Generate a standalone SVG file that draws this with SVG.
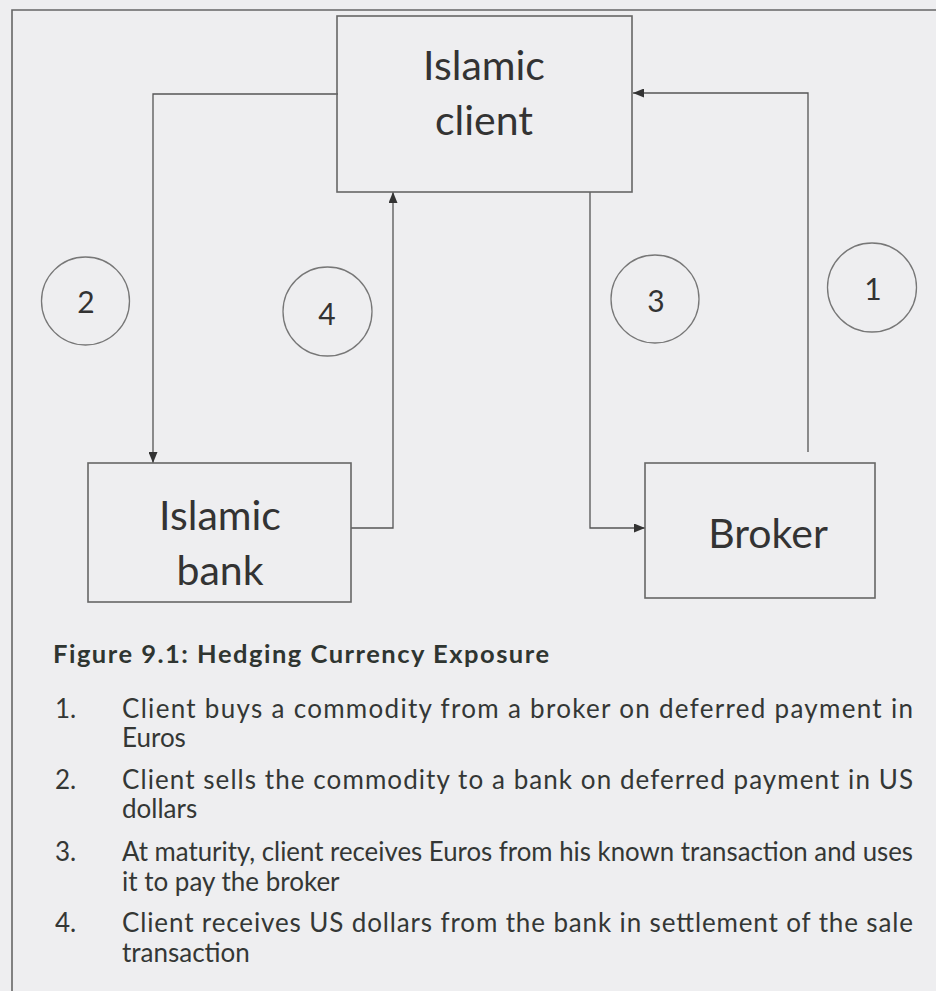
<svg xmlns="http://www.w3.org/2000/svg" width="936" height="991" viewBox="0 0 936 991">
  <defs>
    <marker id="arr" markerUnits="userSpaceOnUse" markerWidth="11" markerHeight="9" refX="11" refY="4.5" orient="auto">
      <path d="M0,0 L11,4.5 L0,9 Z" fill="#333"/>
    </marker>
    <style>
      .box { fill: none; stroke: #666; stroke-width: 1.6; }
      .conn { fill: none; stroke: #555; stroke-width: 1.3; }
      .circ { fill: none; stroke: #777; stroke-width: 1.3; }
      .lbl { font-family: Lato, "Open Sans", "DejaVu Sans", sans-serif; font-size: 41px; fill: #333; text-anchor: middle; }
      .num { font-family: Lato, "Open Sans", "DejaVu Sans", sans-serif; font-size: 30px; fill: #333; text-anchor: middle; }
      .cap { font-family: Lato, "Open Sans", "DejaVu Sans", sans-serif; font-size: 25.5px; font-weight: bold; fill: #2f3531; }
      .txt { font-family: Lato, "Open Sans", "DejaVu Sans", sans-serif; font-size: 26px; fill: #343735; }
    </style>
  </defs>
  <rect x="0" y="0" width="936" height="991" fill="#eeeef0"/>
  <g id="frame">
    <path d="M12,991 V10 H936" fill="none" stroke="#666" stroke-width="1.6"/>
  </g>

  <g id="connectors">
    <path class="conn" d="M338,94 H153 V463" marker-end="url(#arr)"/>
    <path class="conn" d="M351,528 H393 V192" marker-end="url(#arr)"/>
    <path class="conn" d="M590,192 V528 H645" marker-end="url(#arr)"/>
    <path class="conn" d="M808,452 V93 H633" marker-end="url(#arr)"/>
  </g>

  <g id="islamic-client">
    <rect class="box" x="337" y="16" width="295" height="176"/>
    <text class="lbl" x="484" y="80">Islamic</text>
    <text class="lbl" x="484" y="135">client</text>
  </g>
  <g id="islamic-bank">
    <rect class="box" x="88" y="463" width="263" height="139"/>
    <text class="lbl" x="220" y="530">Islamic</text>
    <text class="lbl" x="220" y="585">bank</text>
  </g>
  <g id="broker">
    <rect class="box" x="645" y="463" width="230" height="135"/>
    <text class="lbl" x="768" y="548">Broker</text>
  </g>

  <g id="step-2">
    <circle class="circ" cx="85.5" cy="301" r="44"/>
    <text class="num" x="86" y="313">2</text>
  </g>
  <g id="step-4">
    <circle class="circ" cx="327.5" cy="311.5" r="44.5"/>
    <text class="num" x="327" y="325">4</text>
  </g>
  <g id="step-3">
    <circle class="circ" cx="655" cy="299" r="44"/>
    <text class="num" x="656" y="312">3</text>
  </g>
  <g id="step-1">
    <circle class="circ" cx="872" cy="287.5" r="44.5"/>
    <text class="num" x="873" y="300">1</text>
  </g>

  <g id="caption">
    <text class="cap" x="53" y="663" textLength="496">Figure 9.1: Hedging Currency Exposure</text>
    <text class="txt" x="55" y="718">1.</text>
    <text class="txt" x="122" y="718" textLength="791">Client buys a commodity from a broker on deferred payment in</text>
    <text class="txt" x="122" y="747">Euros</text>
    <text class="txt" x="55" y="789">2.</text>
    <text class="txt" x="122" y="789" textLength="791">Client sells the commodity to a bank on deferred payment in US</text>
    <text class="txt" x="122" y="818">dollars</text>
    <text class="txt" x="55" y="861">3.</text>
    <text class="txt" x="122" y="861" textLength="791" lengthAdjust="spacingAndGlyphs">At maturity, client receives Euros from his known transaction and uses</text>
    <text class="txt" x="122" y="891">it to pay the broker</text>
    <text class="txt" x="55" y="932">4.</text>
    <text class="txt" x="122" y="932" textLength="791">Client receives US dollars from the bank in settlement of the sale</text>
    <text class="txt" x="122" y="962">transaction</text>
  </g>
</svg>
